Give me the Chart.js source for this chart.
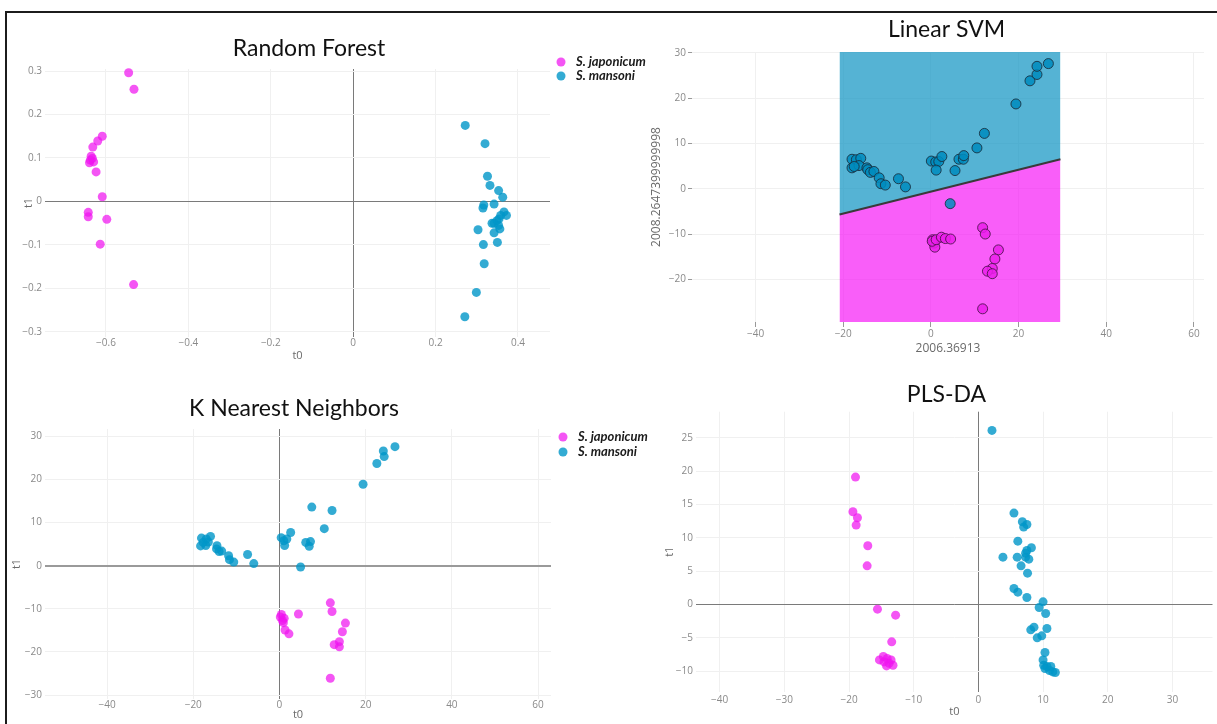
<!DOCTYPE html>
<html>
<head>
<meta charset="utf-8">
<script src="https://cdn.jsdelivr.net/npm/chart.js@4.4.0/dist/chart.umd.min.js"></script>
<style>
html, body { margin: 0; padding: 0; background: #fff; }
body { width: 1217px; height: 724px; position: relative; overflow: hidden; }
#frame { position: absolute; left: 5px; top: 11px; width: 1300px; height: 800px;
         border-top: 2px solid #1c1c1c; border-left: 2px solid #1c1c1c; }
canvas { position: absolute; }
</style>
</head>
<body>
<div id="frame"></div>
<canvas id="svm"></canvas>
<canvas id="pls"></canvas>
<canvas id="rf"></canvas>
<canvas id="knn"></canvas>
<script>
// ---- data ----
const seriesNames = ['S. japonicum', 'S. mansoni'];

const rfJaponicum = [[-0.545,0.296],[-0.532,0.258],[-0.609,0.150],[-0.620,0.139],[-0.632,0.125],[-0.636,0.104],
  [-0.633,0.099],[-0.630,0.091],[-0.640,0.089],[-0.638,0.095],[-0.624,0.068],[-0.609,0.011],[-0.643,-0.025],
  [-0.643,-0.035],[-0.598,-0.041],[-0.614,-0.098],[-0.533,-0.191]];
const rfMansoni = [[0.272,0.175],[0.320,0.133],[0.326,0.058],[0.332,0.037],[0.353,0.025],[0.363,0.010],
  [0.342,-0.006],[0.317,-0.008],[0.315,-0.015],[0.366,-0.024],[0.372,-0.032],[0.358,-0.032],[0.354,-0.040],
  [0.349,-0.044],[0.342,-0.050],[0.337,-0.050],[0.353,-0.055],[0.356,-0.063],[0.342,-0.072],[0.303,-0.065],
  [0.350,-0.094],[0.316,-0.099],[0.318,-0.143],[0.299,-0.209],[0.271,-0.265]];

const svmJaponicum = [[0.4,-11.25],[0.7,-12.0],[0.9,-12.9],[0.3,-11.6],[1.2,-11.25],[2.4,-10.7],[3.3,-11.0],
  [4.5,-11.1],[11.8,-8.6],[12.4,-10.0],[15.4,-13.5],[14.6,-15.5],[14.0,-17.6],[12.9,-18.2],[14.0,-18.75],[11.8,-26.5]];
const svmMansoni = [[-18.0,6.5],[-18.0,4.6],[-17.0,6.4],[-16.0,6.7],[-16.4,5.1],[-17.5,4.9],[-14.6,4.6],
  [-14.4,4.2],[-13.8,3.6],[-13.0,3.8],[-11.8,2.4],[-11.4,1.1],[-10.4,0.8],[-7.4,2.2],[-5.8,0.4],[0.1,6.1],
  [1.1,5.9],[1.8,6.0],[2.5,7.1],[1.2,4.1],[5.5,4.0],[6.4,6.5],[7.4,6.5],[7.5,7.3],[10.5,9.0],[12.2,12.2],
  [19.4,18.7],[22.6,23.8],[24.2,25.2],[24.2,27.0],[26.8,27.6],[4.4,-3.3]];
// decision boundary of the linear SVM and the extent of its shaded region
const svmBoundaryX = [-20.85, 29.55];
const svmBoundaryY = [-5.7, 6.5];

const knnJaponicum = [[11.8,-8.6],[12.2,-10.6],[15.3,-13.3],[14.6,-15.3],[13.9,-17.6],[12.7,-18.3],[13.9,-18.8],
  [11.8,-26.1],[4.4,-11.2],[2.2,-15.8],[1.3,-14.9],[0.2,-11.9],[0.7,-12.7],[1.1,-12.2],[0.45,-11.3],[0.9,-13.2]];
const knnMansoni = [[26.8,27.6],[24.1,26.6],[24.3,25.3],[22.6,23.7],[19.4,18.9],[7.5,13.6],[12.2,12.8],[10.4,8.6],
  [2.6,7.7],[0.4,6.5],[1.7,6.2],[1.0,5.8],[1.2,4.7],[6.1,5.4],[7.2,5.6],[6.9,4.5],[4.9,-0.3],[-7.4,2.6],
  [-5.96,0.5],[-10.6,0.85],[-11.6,1.4],[-11.8,2.3],[-13.4,3.4],[-14.0,3.3],[-14.5,4.65],[-14.6,3.9],[-16.0,6.8],
  [-17.0,6.2],[-18.1,6.4],[-18.3,4.6],[-17.1,4.7],[-16.5,5.5],[-17.7,5.4]];

const plsJaponicum = [[-19.0,19.1],[-19.4,13.9],[-18.7,13.0],[-18.9,11.9],[-17.1,8.8],[-17.2,5.8],[-15.6,-0.7],
  [-12.8,-1.6],[-13.4,-5.6],[-15.3,-8.3],[-14.7,-7.8],[-14.1,-8.1],[-13.5,-8.3],[-13.8,-8.8],[-14.2,-9.2],
  [-13.2,-9.1],[-14.6,-8.6]];
const plsMansoni = [[2.1,26.1],[5.5,13.7],[6.8,12.4],[7.5,12.0],[7.0,11.6],[6.1,9.5],[8.2,8.5],[7.5,8.1],[7.3,7.7],
  [3.8,7.1],[6.0,7.1],[7.3,7.1],[7.8,6.8],[6.6,5.8],[7.6,4.7],[5.5,2.4],[6.1,1.85],[7.5,1.05],[10.0,0.4],
  [9.4,-0.45],[10.4,-1.35],[10.6,-3.6],[8.6,-3.4],[8.1,-3.8],[9.8,-4.7],[9.1,-5.0],[10.3,-7.2],[10.0,-8.3],
  [10.1,-9.1],[10.6,-9.3],[11.2,-9.3],[11.0,-9.9],[11.5,-10.1],[11.9,-10.2],[10.3,-9.6]];

const rfXTicks = [-0.6, -0.4, -0.2, 0, 0.2, 0.4];
const rfYTicks = [-0.3, -0.2, -0.1, 0, 0.1, 0.2, 0.3];
const svmXTicks = [-40, -20, 0, 20, 40, 60];
const svmYTicks = [-20, -10, 0, 10, 20, 30];
const knnXTicks = [-40, -20, 0, 20, 40, 60];
const knnYTicks = [-30, -20, -10, 0, 10, 20, 30];
const plsXTicks = [-40, -30, -20, -10, 0, 10, 20, 30];
const plsYTicks = [-10, -5, 0, 5, 10, 15, 20, 25];

// ---- styling ----
const MAGENTA = 'rgba(240,20,240,0.72)';
const BLUE = 'rgba(0,150,200,0.8)';
const GRID = '#f0f0f0';
const TICK = '#8a8a8a';
const minus = v => (v < 0 ? '\u2212' : '') + Math.abs(v);
const pts = arr => arr.map(p => ({ x: p[0], y: p[1] }));

// draws the panel title and the little legend at fixed spots
const panelDecor = {
  id: 'panelDecor',
  afterDraw(chart, args, o) {
    const ctx = chart.ctx;
    ctx.save();
    if (o.title) {
      ctx.font = '23px Lato';
      ctx.fillStyle = '#111';
      ctx.textAlign = 'center';
      ctx.textBaseline = 'middle';
      ctx.fillText(o.title, o.titleX, o.titleY);
    }
    if (o.legend) {
      chart.data.datasets.filter(d => d.inLegend).forEach((ds, i) => {
        const y = o.legendY + i * o.legendGap;
        ctx.beginPath();
        ctx.arc(o.legendX, y, 4.5, 0, Math.PI * 2);
        ctx.fillStyle = ds.backgroundColor;
        ctx.fill();
        ctx.font = 'italic bold 13px Lato';
        ctx.fillStyle = '#1a1a1a';
        ctx.textAlign = 'left';
        ctx.textBaseline = 'middle';
        ctx.fillText(ds.label, o.legendX + 15, y);
      });
    }
    ctx.restore();
  }
};

function scatterSet(label, arr, color, extra) {
  return Object.assign({
    label: label, data: pts(arr), backgroundColor: color, pointBackgroundColor: color,
    pointRadius: 4.5, pointBorderWidth: 0, clip: false, inLegend: true, order: 0
  }, extra || {});
}

// p: canvas box on the page, area: wanted chart area on the page
function makePanel(id, p) {
  const cv = document.getElementById(id);
  cv.width = p.width; cv.height = p.height;
  cv.style.left = p.left + 'px'; cv.style.top = p.top + 'px';
  const a = p.area;

  const axis = (ax, isX) => ({
    type: 'linear', min: ax.min, max: ax.max,
    afterBuildTicks: s => { s.ticks = ax.ticks.map(v => ({ value: v })); },
    afterFit: s => { if (isX) s.height = p.top + p.height - a.b; else s.width = a.l - p.left; },
    ticks: { autoSkip: false, padding: ax.tickPad, color: TICK, font: { family: 'Open Sans', size: 10 }, callback: minus },
    grid: {
      drawTicks: !!ax.tickLen, tickLength: ax.tickLen || 0, tickColor: '#999',
      color: c => (ax.zero && c.tick && c.tick.value === 0) ? ax.zero : GRID,
      lineWidth: c => (ax.zero && c.tick && c.tick.value === 0) ? (ax.zeroWidth || 1) : 1
    },
    border: { display: false },
    title: {
      display: true, text: ax.title, color: '#6a6a6a',
      font: { family: 'Open Sans', size: ax.titleSize || 11 },
      padding: isX ? { top: 0, bottom: ax.titlePad } : { top: ax.titlePad, bottom: 0 }
    }
  });

  const decor = Object.assign({}, p.decor);
  decor.titleX -= p.left; decor.titleY -= p.top;
  if (decor.legend) { decor.legendX -= p.left; decor.legendY -= p.top; }

  return new Chart(cv, {
    type: 'scatter',
    data: { datasets: p.datasets },
    options: {
      responsive: false, animation: false, events: [],
      layout: { padding: { left: 0, top: a.t - p.top, right: p.left + p.width - a.r, bottom: 0 } },
      scales: { x: axis(p.x, true), y: axis(p.y, false) },
      plugins: { legend: { display: false }, tooltip: { enabled: false }, panelDecor: decor }
    },
    plugins: [panelDecor]
  });
}

function draw() {
  makePanel('rf', {
    left: 8, top: 14, width: 680, height: 358,
    area: { l: 45, t: 69, r: 550, b: 337 },
    x: { min: -0.748, max: 0.4777, ticks: rfXTicks, tickPad: 0, title: 't0', titlePad: 9.4, zero: '#7a7a7a' },
    y: { min: -0.3115, max: 0.3046, ticks: rfYTicks, tickPad: 3, title: 't1', titlePad: 14.4, zero: '#7a7a7a' },
    datasets: [scatterSet(seriesNames[0], rfJaponicum, MAGENTA), scatterSet(seriesNames[1], rfMansoni, BLUE)],
    decor: { title: 'Random Forest', titleX: 309, titleY: 49, legend: true, legendX: 561, legendY: 62, legendGap: 14 }
  });

  const boundary = svmBoundaryX.map((x, i) => [x, svmBoundaryY[i]]);
  makePanel('svm', {
    left: 640, top: 14, width: 577, height: 358,
    area: { l: 692, t: 52, r: 1204, b: 322 },
    x: { min: -54.5, max: 62.3, ticks: svmXTicks, tickPad: 1, tickLen: 5, title: '2006.36913', titleSize: 12, titlePad: 15.8 },
    y: { min: -29.41, max: 30.16, ticks: svmYTicks, tickPad: 2, tickLen: 4, title: '2008.2647399999998', titleSize: 12, titlePad: 9.8 },
    datasets: [
      scatterSet(seriesNames[1], svmMansoni, 'rgba(0,140,190,0.85)',
        { pointBorderWidth: 1, pointBorderColor: 'rgba(25,45,60,0.85)', pointRadius: 5 }),
      scatterSet(seriesNames[0], svmJaponicum, 'rgba(235,30,235,0.85)',
        { pointBorderWidth: 1, pointBorderColor: 'rgba(70,20,70,0.85)', pointRadius: 5 }),
      { type: 'line', label: 'mansoni region', data: pts(boundary), showLine: true, pointRadius: 0,
        borderColor: '#3a3a3a', borderWidth: 2, fill: 'end', backgroundColor: 'rgba(20,150,195,0.72)',
        inLegend: false, order: 5 },
      { type: 'line', label: 'japonicum region', data: pts(boundary), showLine: true, pointRadius: 0,
        borderWidth: 0, borderColor: 'rgba(0,0,0,0)', fill: 'start', backgroundColor: 'rgba(245,0,245,0.63)',
        inLegend: false, order: 6 }
    ],
    decor: { title: 'Linear SVM', titleX: 946.5, titleY: 30, legend: false }
  });

  makePanel('knn', {
    left: 8, top: 376, width: 680, height: 348,
    area: { l: 45, t: 429, r: 551, b: 699 },
    x: { min: -54.4, max: 63.0, ticks: knnXTicks, tickPad: 0, title: 't0', titlePad: 2.4, zero: '#7a7a7a' },
    y: { min: -30.9, max: 31.7, ticks: knnYTicks, tickPad: 3, title: 't1', titlePad: 2.4, zero: '#9a9a9a', zeroWidth: 2 },
    datasets: [scatterSet(seriesNames[0], knnJaponicum, MAGENTA), scatterSet(seriesNames[1], knnMansoni, BLUE)],
    decor: { title: 'K Nearest Neighbors', titleX: 294, titleY: 409, legend: true, legendX: 563, legendY: 437, legendGap: 15 }
  });

  makePanel('pls', {
    left: 640, top: 376, width: 577, height: 348,
    area: { l: 696.4, t: 411.7, r: 1217, b: 691.7 },
    x: { min: -43.6, max: 36.2, ticks: plsXTicks, tickPad: 2, title: 't0', titlePad: 5.7, zero: '#7a7a7a' },
    y: { min: -13.07, max: 28.9, ticks: plsYTicks, tickPad: 3.5, title: 't1', titlePad: 23.7, zero: '#7a7a7a' },
    datasets: [scatterSet(seriesNames[0], plsJaponicum, MAGENTA), scatterSet(seriesNames[1], plsMansoni, BLUE)],
    decor: { title: 'PLS-DA', titleX: 946.5, titleY: 395, legend: false }
  });
}

Promise.all([
  document.fonts.load('23px Lato'),
  document.fonts.load('italic bold 13px Lato'),
  document.fonts.load('10px "Open Sans"')
]).then(draw, draw);
</script>
</body>
</html>
